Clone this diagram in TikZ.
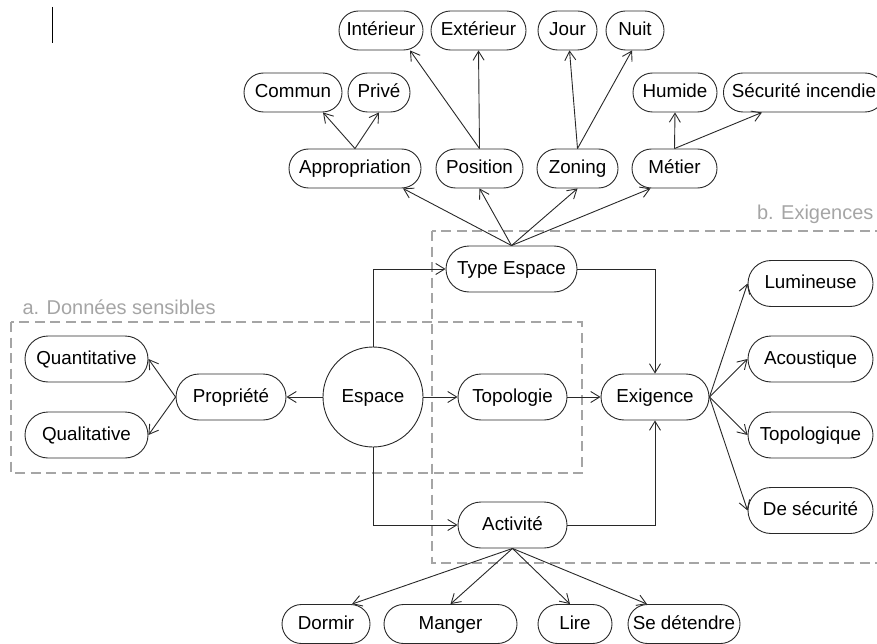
\documentclass[tikz,border=0pt]{standalone}
\usepackage{fontspec}
\setmainfont{Liberation Sans}
\usetikzlibrary{shapes.misc,arrows.meta}
\definecolor{groupgray}{RGB}{165,165,165}
\definecolor{edgegray}{RGB}{40,40,40}
\begin{document}
\begin{tikzpicture}[x=1pt,y=1pt]
\tikzstyle{every node}+=[font=\fontsize{18.8}{22}\selectfont]
\tikzstyle{pill}=[draw=edgegray,line width=0.9pt,rounded rectangle,minimum height=39pt,inner sep=0pt,text height=13.5pt,text depth=3.5pt]
\tikzstyle{bigpill}=[pill,minimum height=46pt]
\tikzstyle{link}=[draw=edgegray,line width=0.9pt,-{Straight Barb[length=9pt,width=11pt]}]
\tikzstyle{group}=[draw=groupgray,line width=1.5pt,dash pattern=on 10pt off 5.5pt]
\tikzstyle{grouplabel}=[text=groupgray,font=\fontsize{20}{24}\selectfont]
\useasboundingbox (0,0) rectangle (877,-644);
\draw [line width=1pt] (52,-7) -- (52,-43);
\draw [group] (11,-322) rectangle (582,-473);
\draw [group] (432,-231) rectangle (900,-563);
\node [grouplabel,anchor=west] (labela) at (19,-307) {a. Données sensibles};
\node [grouplabel,anchor=east] (labelb) at (877,-214) {b. Exigences};
\node [pill,minimum width=84pt] (interieur) at (381,-30.5) {Intérieur};
\node [pill,minimum width=95pt] (exterieur) at (478.5,-30.5) {Extérieur};
\node [pill,minimum width=59pt] (jour) at (567.5,-30.5) {Jour};
\node [pill,minimum width=58pt] (nuit) at (635,-30.5) {Nuit};
\node [pill,minimum width=98pt] (commun) at (293,-92.5) {Commun};
\node [pill,minimum width=62pt] (prive) at (379,-92.5) {Privé};
\node [pill,minimum width=84pt] (humide) at (675,-92.5) {Humide};
\node [pill,minimum width=161pt,anchor=west] (incendie) at (723,-92.5) {Sécurité incendie};
\node [pill,minimum width=132pt] (appro) at (355,-168.5) {Appropriation};
\node [pill,minimum width=87pt] (position) at (479.5,-168.5) {Position};
\node [pill,minimum width=81pt] (zoning) at (577.5,-168.5) {Zoning};
\node [pill,minimum width=85pt] (metier) at (674.5,-168.5) {Métier};
\node [bigpill,minimum width=131pt] (typeesp) at (511.5,-269) {Type Espace};
\node [draw=edgegray,line width=0.9pt,circle,minimum size=100pt,inner sep=0pt,text height=13.5pt,text depth=3.5pt] (espace) at (373,-397) {Espace};
\node [bigpill,minimum width=110pt] (propriete) at (231,-397) {Propriété};
\node [bigpill,minimum width=123pt] (quanti) at (86.5,-359) {Quantitative};
\node [bigpill,minimum width=123pt] (quali) at (86.5,-435) {Qualitative};
\node [bigpill,minimum width=109pt] (topologie) at (512.5,-397) {Topologie};
\node [bigpill,minimum width=108pt] (exigence) at (655,-397) {Exigence};
\node [bigpill,minimum width=125pt] (lumineuse) at (810.5,-283.5) {Lumineuse};
\node [bigpill,minimum width=125pt] (acoustique) at (810.5,-359) {Acoustique};
\node [bigpill,minimum width=125pt] (topologique) at (810.5,-435) {Topologique};
\node [bigpill,minimum width=125pt] (desecu) at (810.5,-510.5) {De sécurité};
\node [bigpill,minimum width=109pt] (activite) at (512.5,-525) {Activité};
\node [pill,minimum width=88pt] (dormir) at (326,-624) {Dormir};
\node [pill,minimum width=133pt] (manger) at (450.5,-624) {Manger};
\node [pill,minimum width=74pt] (lire) at (575,-624) {Lire};
\node [pill,minimum width=112pt] (detendre) at (684,-624) {Se détendre};
\draw [link] (appro.north) -- ([xshift=30pt]commun.south);
\draw [link] (appro.north) -- (prive.south);
\draw [link] (position.north) -- ([xshift=29pt]interieur.south);
\draw [link] (position.north) -- (exterieur.south);
\draw [link] (zoning.north) -- ([xshift=2pt]jour.south);
\draw [link] (zoning.north) -- ([xshift=-3pt]nuit.south);
\draw [link] (metier.north) -- (humide.south);
\draw [link] (metier.north) -- ([xshift=19pt]incendie.south west);
\draw [link] (typeesp.north) -- ([xshift=48pt]appro.south);
\draw [link] (typeesp.north) -- (position.south);
\draw [link] (typeesp.north) -- (zoning.south);
\draw [link] (typeesp.north) -- ([xshift=-24pt]metier.south);
\draw [link] (espace.north) |- (typeesp.west);
\draw [link] (espace.south) |- (activite.west);
\draw [link] (espace.west) -- (propriete.east);
\draw [link] (espace.east) -- (topologie.west);
\draw [link] (propriete.west) -- (quanti.east);
\draw [link] (propriete.west) -- (quali.east);
\draw [link] (topologie.east) -- (exigence.west);
\draw [link] (typeesp.east) -| (exigence.north);
\draw [link] (activite.east) -| (exigence.south);
\draw [link] (exigence.east) -- (lumineuse.west);
\draw [link] (exigence.east) -- (acoustique.west);
\draw [link] (exigence.east) -- (topologique.west);
\draw [link] (exigence.east) -- (desecu.west);
\draw [link] (activite.south) -- ([xshift=26pt]dormir.north);
\draw [link] (activite.south) -- (manger.north);
\draw [link] (activite.south) -- ([xshift=-5pt]lire.north);
\draw [link] (activite.south) -- ([xshift=-37pt]detendre.north);
\end{tikzpicture}
\end{document}
